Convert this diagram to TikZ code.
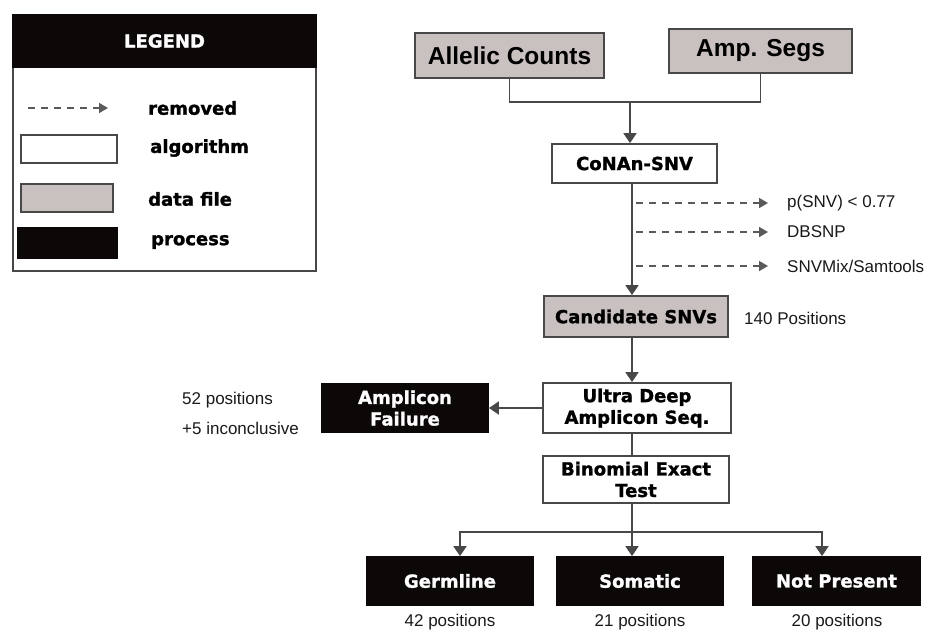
\documentclass[tikz,border=0pt]{standalone}
\usepackage{fontspec}
\setmainfont{Liberation Sans}
\newfontfamily\boxfont{DejaVu Sans}[BoldFeatures={FakeBold=1.3}]
\usetikzlibrary{arrows.meta}
\definecolor{datagray}{RGB}{201,193,191}
\definecolor{edgegray}{RGB}{72,72,72}
\definecolor{procblack}{RGB}{12,8,8}
\tikzset{
  box/.style={draw=edgegray, line width=1.8pt, inner sep=0pt, align=center,
    font=\boxfont\bfseries\fontsize{18}{21.6}\selectfont},
  algobox/.style={box, fill=white},
  databox/.style={box, fill=datagray},
  procbox/.style={box, fill=procblack, draw=procblack, text=white},
  bigdata/.style={databox, font=\bfseries\fontsize{24.5}{29}\selectfont},
  lbl/.style={inner sep=0pt, text=black!90, font=\fontsize{17}{20.4}\selectfont},
  leglbl/.style={inner sep=0pt, anchor=west, font=\boxfont\bfseries\fontsize{18}{21.6}\selectfont},
  link/.style={draw=edgegray, line width=1.8pt},
  flow/.style={link, -{Triangle[length=10pt,width=13pt]}},
  removed/.style={draw=edgegray!90, line width=1.6pt, dash pattern=on 7pt off 6pt,
    -{Triangle[length=9pt,width=10pt]}}
}
\begin{document}
\begin{tikzpicture}[x=1pt,y=-1pt]
\useasboundingbox (0,0) rectangle (925,633);

\node[draw=edgegray, line width=1.5pt, minimum width=303pt, minimum height=256pt] (Legend) at (164.5,143) {};
\node[procbox, minimum width=303pt, minimum height=52pt] (LegendHead) at (164.5,41) {LEGEND};
\coordinate (L_0) at (28,108);
\node[leglbl] (L_1) at (148,108) {removed};
\node[algobox, minimum width=96pt, minimum height=28pt] (L_2box) at (69,149) {};
\node[leglbl] (L_2) at (150,148) {algorithm};
\node[databox, minimum width=92pt, minimum height=28pt] (L_3box) at (67,198) {};
\node[leglbl] (L_3) at (148,199) {data file};
\node[procbox, minimum width=99pt, minimum height=30pt] (L_4box) at (67.5,243) {};
\node[leglbl] (L_4) at (151,242) {process};
\draw[removed] (L_0) -- ([xshift=-40pt]L_1.west);

\node[bigdata, minimum width=189pt, minimum height=45pt] (Allelic) at (509.5,55.5) {Allelic Counts};
\node[bigdata, minimum width=183pt, minimum height=44pt] (AmpSegs) at (760.5,51) {Amp. Segs};
\node[algobox, minimum width=165pt, minimum height=39pt] (CoNAn) at (634.5,163.5) {CoNAn-SNV};
\node[databox, minimum width=184pt, minimum height=41pt] (Candidate) at (636,316.5) {Candidate SNVs};
\node[algobox, minimum width=188pt, minimum height=50pt] (Ultra) at (637,408) {Ultra Deep\\Amplicon Seq.};
\node[procbox, minimum width=166pt, minimum height=48pt] (Failure) at (405,408) {Amplicon\\Failure};
\node[algobox, minimum width=186pt, minimum height=47pt] (Binomial) at (636,479.5) {Binomial Exact\\Test};
\node[procbox, minimum width=166pt, minimum height=48pt] (Germline) at (450,581) {Germline};
\node[procbox, minimum width=166pt, minimum height=48pt] (Somatic) at (640,581) {Somatic};
\node[procbox, minimum width=167pt, minimum height=48pt] (NotPresent) at (836.5,581) {Not Present};

\node[lbl, anchor=west] (Cut_1) at (787,203) {p(SNV) < 0.77};
\node[lbl, anchor=west] (Cut_2) at (787,232) {DBSNP};
\node[lbl, anchor=west] (Cut_3) at (787,266) {SNVMix/Samtools};
\node[lbl, anchor=west] (CandCount) at (744,318) {140 Positions};
\node[lbl, anchor=west] (FailCount_1) at (182,400) {52 positions};
\node[lbl, anchor=west] (FailCount_2) at (182,428) {+5 inconclusive};
\node[lbl] (GermCount) at (450,622) {42 positions};
\node[lbl] (SomCount) at (640,622) {21 positions};
\node[lbl] (NotCount) at (837,622) {20 positions};

\coordinate (Spine) at (632,0);
\coordinate (Join) at (630,102);
\coordinate (Split) at (632,532);
\draw[link] (Allelic.south) |- (Join) -| (AmpSegs.south);
\draw[flow] (Join) -- (Join |- CoNAn.north);
\draw[flow] (CoNAn.south -| Spine) -- (Candidate.north -| Spine);
\foreach \c in {Cut_1,Cut_2,Cut_3}
  \draw[removed] (Spine |- \c.west) ++(4,0) -- ([xshift=-19pt]\c.west);
\draw[flow] (Candidate.south -| Spine) -- (Ultra.north -| Spine);
\draw[flow] (Ultra.west) -- (Failure.east);
\draw[link] (Ultra.south -| Spine) -- (Binomial.north -| Spine);
\draw[flow] (Binomial.south -| Spine) -- (Somatic.north -| Spine);
\draw[flow] (Split) -| ([xshift=10pt]Germline.north);
\draw[flow] (Split) -| ([xshift=-14.5pt]NotPresent.north);

\end{tikzpicture}
\end{document}
